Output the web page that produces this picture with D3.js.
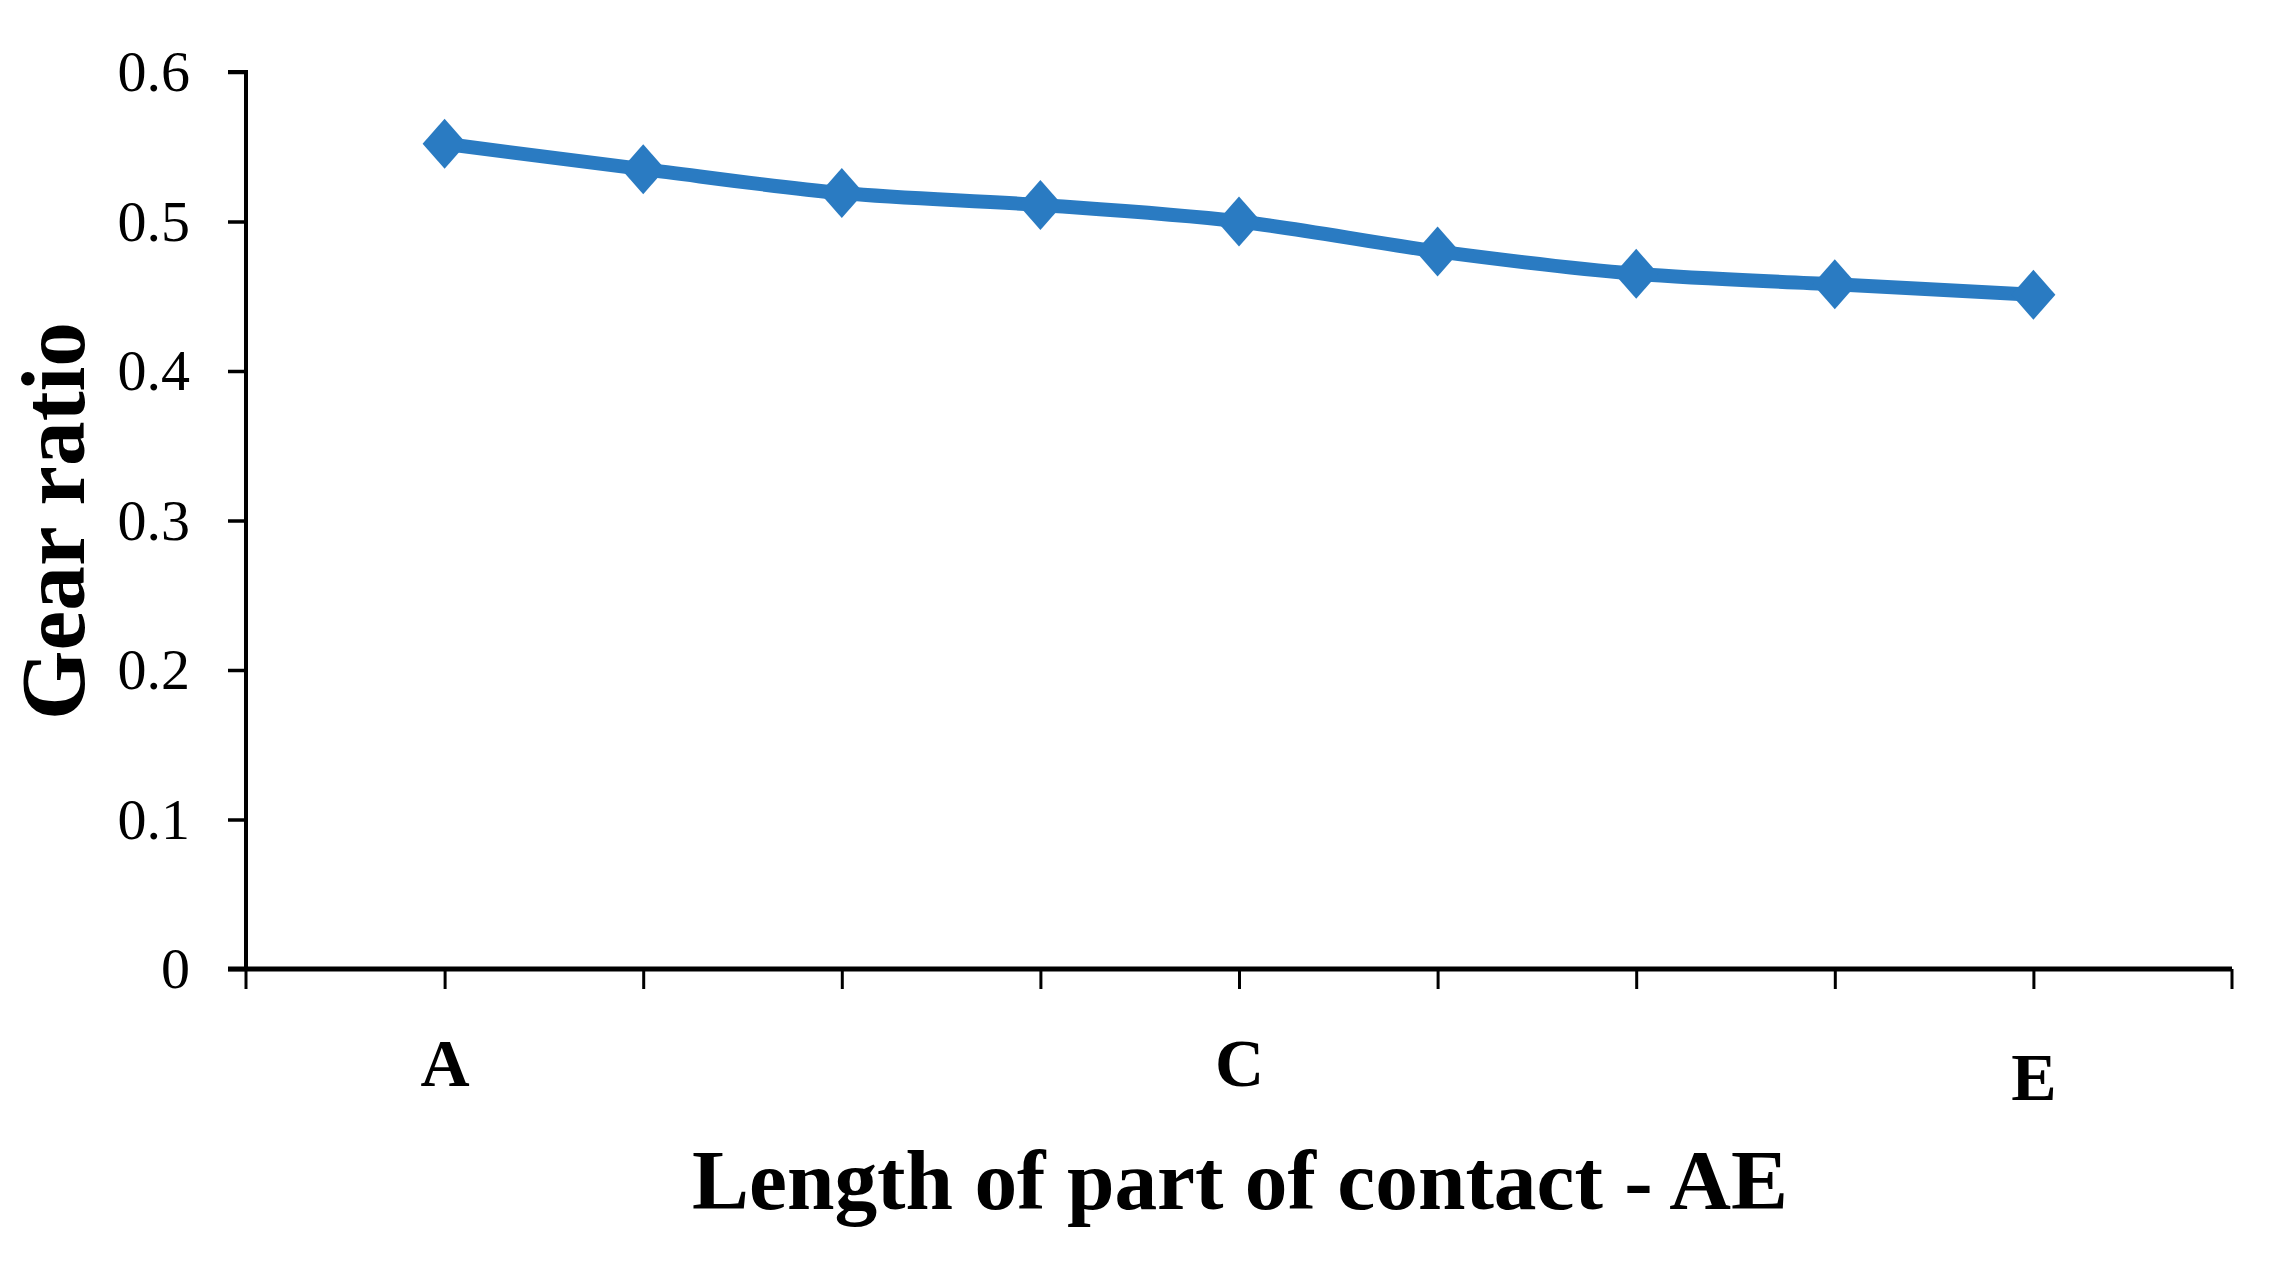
<!DOCTYPE html>
<html>
<head>
<meta charset="utf-8">
<script src="https://cdn.jsdelivr.net/npm/d3@7"></script>
<style>
  html, body { margin: 0; padding: 0; background: #fff; }
  svg { display: block; }
</style>
</head>
<body>
<svg id="chart" width="2271" height="1267"></svg>
<script>
// ---- data ----
const categories = ["P1", "P2", "P3", "P4", "P5", "P6", "P7", "P8", "P9"];
const categoryLabels = ["A", "", "", "", "C", "", "", "", "E"];
const gearRatio = [0.552, 0.535, 0.519, 0.511, 0.500, 0.480, 0.465, 0.458, 0.451];
const yTicks = [0, 0.1, 0.2, 0.3, 0.4, 0.5, 0.6];
const yTickLabels = ["0", "0.1", "0.2", "0.3", "0.4", "0.5", "0.6"];
const xTitle = "Length of part of contact - AE";
const yTitle = "Gear  ratio";

(function () {
// ---- layout ----
const svg = d3.select("#chart");
const mLeft = 246, mRight = 2232, mTop = 72, mBottom = 969;
const blue = "#2a7bc2";

const x = d3.scalePoint().domain(categories).range([mLeft, mRight]).padding(1);
const y = d3.scaleLinear().domain([0, 0.6]).range([mBottom, mTop]);

// Y axis
const yAxis = d3.axisLeft(y).tickValues(yTicks)
  .tickFormat((d, i) => yTickLabels[i]).tickSize(18).tickPadding(38);
const gy = svg.append("g").attr("transform", `translate(${mLeft},0)`).call(yAxis);
gy.select(".domain").attr("d", `M-18,${mTop}H0V${mBottom}`)
  .attr("stroke", "#000").attr("stroke-width", 4).attr("fill", "none");
gy.selectAll(".tick line").attr("stroke", "#000").attr("stroke-width", 3.5);
gy.selectAll(".tick text").attr("font-family", "'Liberation Serif', 'Times New Roman', serif")
  .attr("font-size", 58).attr("fill", "#000");

// X axis
const xAxis = d3.axisBottom(x).tickFormat((d, i) => categoryLabels[i])
  .tickSize(20).tickPadding(46);
const gx = svg.append("g").attr("transform", `translate(0,${mBottom})`).call(xAxis);
gx.select(".domain").attr("d", `M${mLeft - 18},0H${mRight}`)
  .attr("stroke", "#000").attr("stroke-width", 5).attr("fill", "none");
gx.selectAll(".tick line").attr("stroke", "#000").attr("stroke-width", 3);
gx.selectAll(".tick text").attr("font-family", "'Liberation Serif', 'Times New Roman', serif")
  .attr("font-weight", "bold").attr("font-size", 68).attr("fill", "#000")
  .attr("dy", (d, i) => i === 8 ? "0.95em" : "0.75em");
// end ticks at both extremities of the category axis
[mLeft, mRight].forEach(px => {
  gx.append("line").attr("x1", px).attr("x2", px).attr("y1", 0).attr("y2", 20)
    .attr("stroke", "#000").attr("stroke-width", 3);
});

// Line
const line = d3.line()
  .x((d, i) => x(categories[i]))
  .y(d => y(d))
  .curve(d3.curveCatmullRom.alpha(0.5));
svg.append("path").datum(gearRatio)
  .attr("d", line).attr("fill", "none")
  .attr("stroke", blue).attr("stroke-width", 14).attr("stroke-linejoin", "round");

// Diamond markers
svg.append("g").selectAll("path").data(gearRatio).join("path")
  .attr("transform", (d, i) => `translate(${x(categories[i])},${y(d)})`)
  .attr("d", "M0,-25L22,0L0,25L-22,0Z")
  .attr("fill", blue);

// Titles
svg.append("text")
  .attr("x", 1240).attr("y", 1209)
  .attr("text-anchor", "middle")
  .attr("font-family", "'Liberation Serif', 'Times New Roman', serif")
  .attr("font-weight", "bold").attr("font-size", 84)
  .attr("textLength", 1096).attr("lengthAdjust", "spacingAndGlyphs")
  .text(xTitle);

svg.append("text")
  .attr("transform", "translate(84,521) rotate(-90)")
  .attr("text-anchor", "middle")
  .attr("font-family", "'Liberation Serif', 'Times New Roman', serif")
  .attr("font-weight", "bold").attr("font-size", 92)
  .attr("textLength", 398).attr("lengthAdjust", "spacingAndGlyphs")
  .text(yTitle);
})();
</script>
</body>
</html>
